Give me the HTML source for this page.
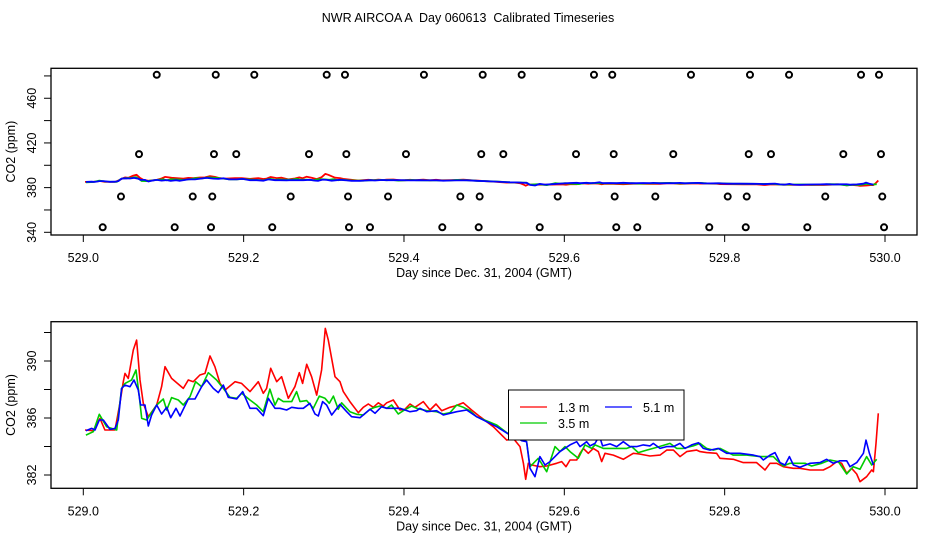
<!DOCTYPE html>
<html><head><meta charset="utf-8"><style>
html,body{margin:0;padding:0;background:#fff;}
svg text{font-family:"Liberation Sans",sans-serif;fill:#000;}
</style></head><body>
<svg id="chart" width="936" height="540" viewBox="0 0 936 540" xmlns="http://www.w3.org/2000/svg">
<text x="468" y="22" font-size="12.5" text-anchor="middle" xml:space="preserve" style="white-space:pre">NWR AIRCOA A  Day 060613  Calibrated Timeseries</text>
<g id="top"></g>
<g id="bot"></g>
</svg>
<script>
const xTicks=[529.0,529.2,529.4,529.6,529.8,530.0];
const xTickLabels=["529.0","529.2","529.4","529.6","529.8","530.0"];
const topYTicks=[340,360,380,400,420,440,460,480];
const topYLabels=[340,380,420,460];
const botYTicks=[382,384,386,388,390,392];
const botYLabels=[382,386,390];
const seriesNames=["1.3 m","3.5 m","5.1 m"];
const redDays=[.0021,.0125,.0208,.0270,.0395,.0457,.0499,.0520,.0561,.0624,.0665,.0707,.0748,.0811,.0915,.0977,.1019,.1102,.1247,.1310,.1372,.1455,.1518,.1580,.1642,.1705,.1767,.1892,.1975,.2079,.2183,.2245,.2287,.2337,.2412,.2474,.2557,.2640,.2694,.2736,.2786,.2848,.2911,.2973,.3019,.3056,.3139,.3202,.3243,.3326,.3430,.3493,.3555,.3617,.3680,.3742,.3784,.3867,.3950,.4012,.4075,.4137,.4241,.4324,.4399,.4470,.4574,.4636,.4740,.4844,.4948,.5114,.5281,.5364,.5447,.5489,.5518,.5551,.5593,.5696,.5780,.5904,.5967,.6021,.6071,.6154,.6195,.6237,.6299,.6362,.6424,.6466,.6507,.6611,.6736,.6861,.6944,.7069,.7193,.7277,.7360,.7443,.7526,.7651,.7692,.7775,.7900,.7942,.8108,.8233,.8399,.8503,.8565,.8649,.8732,.8857,.8940,.9064,.9231,.9314,.9397,.9459,.9522,.9584,.9647,.9688,.9771,.9834,.9855,.9888,.9917];
const redPpm=[385.16,385.11,385.97,385.16,385.16,387.03,388.55,389.13,388.78,390.77,391.47,388.67,387.03,386.09,386.91,388.2,389.6,388.78,388.08,388.67,388.55,389.02,389.13,390.35,389.6,388.43,387.96,388.55,388.43,387.85,388.55,387.73,388.08,389.49,388.55,388.9,387.38,388.2,389.18,388.43,389.77,388.9,387.61,389.37,392.29,391.47,388.9,388.55,387.85,387.15,386.37,386.75,386.98,386.75,387.07,386.84,387.07,387.26,386.56,386.61,386.98,386.75,387.15,386.56,386.98,386.51,386.75,386.84,387.07,386.56,386.09,385.39,384.45,384.57,383.99,382.82,381.7,382.82,382.7,382.58,382.63,382.82,382.94,382.58,383.05,383.05,383.52,383.87,383.52,383.87,383.64,382.94,383.52,383.4,383.1,383.52,383.47,383.33,383.4,383.75,383.75,383.29,383.64,383.75,383.64,383.57,383.52,383.17,383.1,382.87,382.87,382.35,382.82,382.82,382.58,382.47,382.47,382.35,382.35,382.58,382.94,382.82,382.12,382.47,382.07,381.53,381.88,382.35,382.23,384.22,386.33];
const greenDays=[.0033,.0125,.0200,.0291,.0416,.0478,.0520,.0603,.0657,.0699,.0728,.0790,.0915,.0998,.1040,.1102,.1185,.1247,.1331,.1401,.1476,.1559,.1663,.1746,.1830,.1913,.1975,.2079,.2162,.2245,.2328,.2391,.2432,.2495,.2599,.2661,.2703,.2786,.2869,.2944,.3015,.3069,.3119,.3181,.3222,.3326,.3410,.3493,.3576,.3638,.3701,.3784,.3846,.3929,.3992,.4095,.4158,.4283,.4407,.4491,.4574,.4657,.4740,.4823,.4906,.5156,.5322,.5405,.5489,.5530,.5572,.5676,.5780,.5884,.5946,.6008,.6071,.6175,.6258,.6341,.6383,.6486,.6611,.6778,.6840,.6923,.7027,.7152,.7318,.7401,.7484,.7609,.7692,.7775,.7859,.7942,.8108,.8274,.8441,.8607,.8649,.8732,.8815,.8899,.9002,.9085,.9210,.9314,.9418,.9522,.9605,.9688,.9771,.9834,.9896];
const greenPpm=[384.8,385.04,386.26,385.39,385.16,388.08,388.43,388.67,389.37,387.5,385.97,385.86,386.91,387.33,386.56,387.43,387.26,386.91,387.5,388.55,388.2,389.18,388.67,388.08,387.45,387.38,387.73,387.26,386.91,386.44,388.03,386.91,387.38,387.15,387.15,387.85,387.15,387.22,386.68,387.54,387.38,387.03,387.54,386.61,387.07,386.44,386.26,386.21,386.61,386.75,386.84,386.68,386.91,386.28,386.51,386.84,386.68,386.51,386.44,386.28,386.37,386.91,386.75,386.51,386.09,385.51,384.8,384.69,384.45,384.34,382.58,383.17,382.23,383.99,383.64,383.99,383.64,383.17,384.11,383.87,384.11,383.87,383.87,383.87,383.99,383.57,383.75,383.94,384.22,383.87,383.87,384.04,384.22,383.87,383.75,383.87,383.4,383.4,383.29,383.29,383.05,382.63,382.82,382.82,382.82,382.63,382.82,383.05,382.94,382.07,382.58,382.4,383.29,382.7,383.1];
const blueDays=[.0033,.0104,.0146,.0200,.0249,.0333,.0395,.0437,.0478,.0520,.0582,.0632,.0686,.0715,.0769,.0811,.0852,.0915,.0977,.1040,.1090,.1156,.1206,.1310,.1393,.1476,.1538,.1622,.1684,.1746,.1809,.1913,.1988,.2079,.2162,.2245,.2307,.2391,.2453,.2536,.2599,.2682,.2744,.2827,.2890,.2931,.2985,.3035,.3098,.3202,.3285,.3347,.3451,.3576,.3638,.3721,.3784,.3950,.4075,.4158,.4200,.4283,.4407,.4491,.4574,.4657,.4782,.4906,.5156,.5322,.5405,.5468,.5530,.5572,.5634,.5696,.5759,.5821,.5946,.6071,.6154,.6195,.6279,.6320,.6383,.6437,.6478,.6570,.6653,.6736,.6819,.6902,.6985,.7069,.7110,.7193,.7277,.7360,.7443,.7505,.7588,.7672,.7734,.7817,.7921,.8025,.8191,.8358,.8441,.8482,.8565,.8628,.8690,.8753,.8807,.8857,.8940,.9064,.9189,.9272,.9356,.9439,.9522,.9564,.9647,.9730,.9763,.9805,.9855];
const bluePpm=[385.11,385.27,385.16,385.86,385.86,385.2,385.27,385.86,388.08,388.31,388.2,388.67,387.96,386.91,386.91,385.44,386.21,386.91,386.28,386.75,386.02,386.68,386.14,387.33,387.33,388.2,388.67,388.08,387.78,388.31,387.45,387.33,387.85,386.68,386.68,386.16,387.38,386.68,386.68,386.56,386.75,386.68,386.68,387.03,386.28,386.14,387.15,386.91,386.21,386.96,386.44,386.09,386.02,386.61,386.33,386.79,386.68,386.68,386.44,386.51,386.68,386.44,386.51,386.21,386.33,386.44,386.56,386.09,385.39,384.8,384.64,384.41,384.34,382.47,381.88,383.29,382.7,382.94,383.64,384.11,384.34,383.99,384.34,384.04,384.22,384.74,384.04,384.18,383.99,384.34,383.99,383.99,384.11,384.04,384.22,383.87,383.99,383.99,384.22,383.87,384.11,384.27,383.87,383.75,383.87,383.52,383.52,383.4,383.29,383.05,383.4,383.57,382.87,382.7,383.29,382.7,382.54,382.82,382.87,383.1,382.82,383.0,383.0,382.58,382.87,383.52,384.45,383.52,382.7];
const flagRows=[481,410,372,344.5];
const flagDays482=[.0916,.1652,.2133,.3036,.3264,.4249,.4982,.5468,.6370,.6598,.7580,.8316,.8803,.9701,.9925];
const flagDays410=[.0695,.1630,.1908,.2815,.3281,.4025,.4964,.5239,.6146,.6616,.7359,.8300,.8578,.9480,.9950];
const flagDays372=[.0470,.1365,.1609,.2587,.3302,.3801,.4703,.4944,.5917,.6628,.7135,.8038,.8275,.9255,.9966];
const flagDays344=[.0242,.1140,.1593,.2357,.3314,.3576,.4478,.4932,.5693,.6648,.6910,.7808,.8263,.9031,.9988];
const flagDays=[flagDays482,flagDays410,flagDays372,flagDays344];

const NS="http://www.w3.org/2000/svg";
const L=51,R=917;
const xS=d=>83.3+(d-529)*801.7;
const xO=o=>xS(529+o);
const yTop=v=>232.3-(v-340)*1.117;
const yBot=v=>361-(v-390)*14.25;
function mk(tag,parent,attrs){const e=document.createElementNS(NS,tag);for(const k in attrs)e.setAttribute(k,attrs[k]);parent.appendChild(e);return e;}

function panel(g,top,bottom,yf,yt,yl,lw,prefix){
  const box=mk('rect',g,{x:L,y:top,width:R-L,height:bottom-top,fill:'none',stroke:'#000','stroke-width':1.3});
  
  
  xTicks.forEach((t,i)=>{
    const x=xS(t);
    const tk=mk('line',g,{x1:x,x2:x,y1:bottom,y2:bottom+7,stroke:'#000'});
    
    
    const tx=mk('text',g,{x:x,y:bottom+27,'font-size':12.5,'text-anchor':'middle'});
    tx.textContent=xTickLabels[i];
    
    
  });
  yt.forEach(v=>{
    const y=yf(v);
    const tk=mk('line',g,{x1:L-7,x2:L,y1:y,y2:y,stroke:'#000'});
    
    
  });
  yl.forEach(v=>{
    const y=yf(v);
    const tx=mk('text',g,{x:0,y:0,'font-size':12.5,'text-anchor':'middle',transform:`translate(36,${y}) rotate(-90)`});
    tx.textContent=v;
    
    
  });
  const xl=mk('text',g,{x:484,y:bottom+42,'font-size':12.5,'text-anchor':'middle'});
  xl.textContent='Day since Dec. 31, 2004 (GMT)';
  
  
  const yl2=mk('text',g,{x:0,y:0,'font-size':12.5,'text-anchor':'middle',transform:`translate(15,${(top+bottom)/2}) rotate(-90)`});
  yl2.textContent='CO2 (ppm)';
  
  
  const cp=mk('clipPath',g,{id:prefix+'clip'});
  mk('rect',cp,{x:L,y:top,width:R-L,height:bottom-top});
  const series=[[redDays,redPpm,'#ff0000','red'],[greenDays,greenPpm,'#00cc00','green'],[blueDays,bluePpm,'#0000ff','blue']];
  series.forEach(([ds,vs,c,n],si)=>{
    const pts=ds.map((d,i)=>xO(d).toFixed(1)+','+yf(vs[i]).toFixed(1)).join(' ');
    const pl=mk('polyline',g,{points:pts,fill:'none',stroke:c,'stroke-width':lw,'stroke-linejoin':'round','clip-path':`url(#${prefix}clip)`});
    
    
  });
}
const gt=document.getElementById('top'), gb=document.getElementById('bot');
panel(gt,68.3,235,yTop,topYTicks,topYLabels,1.8,'top');
flagDays.forEach((row,ri)=>{
  row.forEach(d=>{
    const c=mk('circle',gt,{cx:xO(d),cy:yTop(flagRows[ri]),r:3,fill:'none',stroke:'#000','stroke-width':2});
    
    
  });
});
panel(gb,321.7,488.3,yBot,botYTicks,botYLabels,1.6,'bottom');
const lg=mk('g',gb,{});


mk('rect',lg,{x:508.5,y:390,width:175.5,height:50,fill:'#fff',stroke:'#000','stroke-width':1});
const le=[[520,407,'#ff0000',seriesNames[0]],[605,407,'#0000ff',seriesNames[2]],[520,423,'#00cc00',seriesNames[1]]];
le.forEach(([x,y,c,t])=>{
  const ln=mk('line',lg,{x1:x,x2:x+27,y1:y,y2:y,stroke:c,'stroke-width':1.3});
  
  
  const tx=mk('text',lg,{x:x+38,y:y+5,'font-size':12.5});
  tx.textContent=t;
  
  
});
</script>
</body></html>
